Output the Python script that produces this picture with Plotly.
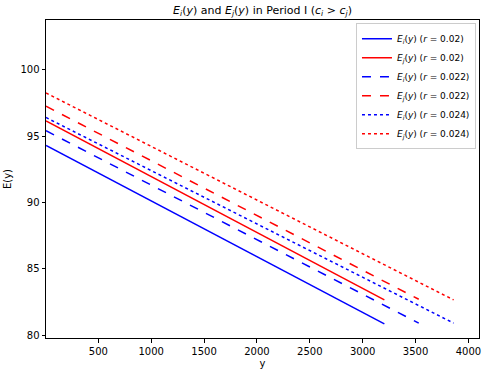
import plotly.graph_objects as go

# data: start/end of each linear series
rates = ["0.02", "0.022", "0.024"]
x_start = [5, 5, 5]
x_end = [3205, 3530, 3860]
ei_start = [94.3, 95.4, 96.4]
ei_end = [80.85, 80.9, 80.9]
ej_start = [96.15, 97.25, 98.25]
ej_end = [82.65, 82.7, 82.65]

dashes = ["solid", "dash", "dot"]

fig = go.Figure()
for k, r in enumerate(rates):
    fig.add_trace(go.Scatter(
        x=[x_start[k], x_end[k]], y=[ei_start[k], ei_end[k]], mode="lines",
        line=dict(color="#0000ff", width=1.5, dash=dashes[k]),
        name=f"<i>E<sub>i</sub></i>(<i>y</i>) (<i>r</i> = {r})"))
    fig.add_trace(go.Scatter(
        x=[x_start[k], x_end[k]], y=[ej_start[k], ej_end[k]], mode="lines",
        line=dict(color="#ff0000", width=1.5, dash=dashes[k]),
        name=f"<i>E<sub>j</sub></i>(<i>y</i>) (<i>r</i> = {r})"))

axis_common = dict(showline=True, linecolor="black", linewidth=1, mirror=True,
                   ticks="outside", ticklen=3.5, tickcolor="black", showgrid=False,
                   zeroline=False, tickfont=dict(size=10, color="black"))

fig.update_layout(
    width=486, height=373,
    margin=dict(l=46, r=5, t=20, b=33),
    paper_bgcolor="white", plot_bgcolor="white",
    font=dict(family="DejaVu Sans", size=10, color="black"),
    title=dict(text="<i>E<sub>i</sub></i>(<i>y</i>) and <i>E<sub>j</sub></i>(<i>y</i>) in Period I (<i>c<sub>i</sub></i> > <i>c<sub>j</sub></i>)",
               xref="paper", x=0.5, xanchor="center", y=0.973, yanchor="middle", font=dict(size=11)),
    xaxis=dict(range=[5, 4100], tickvals=[500, 1000, 1500, 2000, 2500, 3000, 3500, 4000],
               title=dict(text="y", standoff=4, font=dict(size=10)), **axis_common),
    yaxis=dict(range=[79.78, 103.75], tickvals=[80, 85, 90, 95, 100],
               title=dict(text="E(y)", standoff=6, font=dict(size=10)), **axis_common),
    legend=dict(x=0.993, xanchor="right", y=0.99, yanchor="top",
                bordercolor="#cccccc", borderwidth=1, bgcolor="rgba(255,255,255,0.8)",
                font=dict(size=9), tracegroupgap=0, itemwidth=30),
    showlegend=True,
)

fig.write_html("out.html", config={"displayModeBar": False},
               post_script="document.body.style.margin='0';")
